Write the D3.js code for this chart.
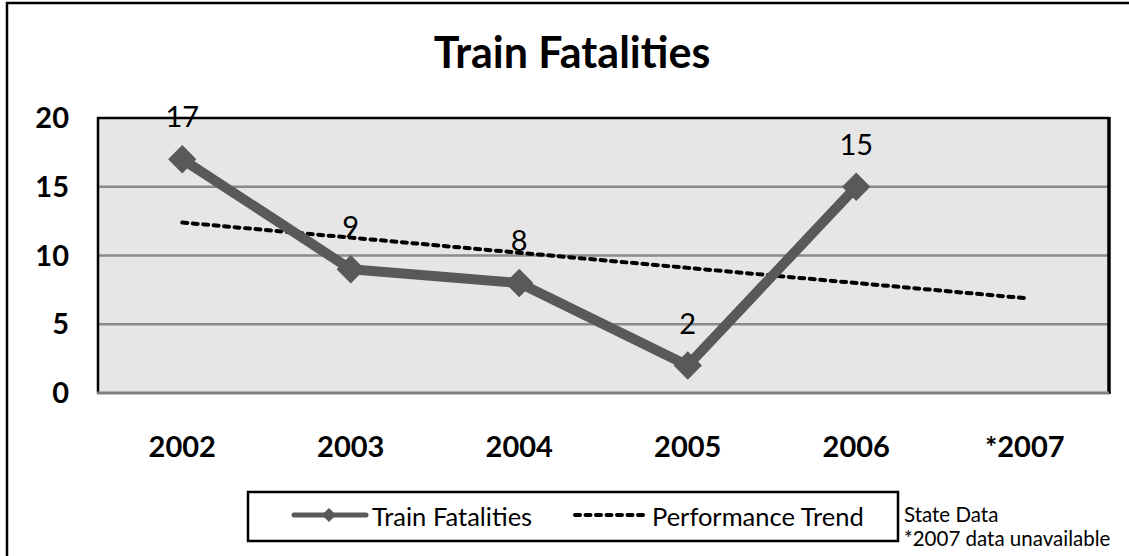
<!DOCTYPE html>
<head>
    <meta charset="utf-8">
    <title>Train Fatalities</title>
    <style>
        body { margin: 0; background: #fff; }
        text { font-family: Lato, "Open Sans", sans-serif; fill: #000; }
    </style>
</head>
<body>
<svg width="1129" height="556"></svg>
<script src="https://cdn.jsdelivr.net/npm/d3@7"></script>
<script>

    //data
    var years = ["2002", "2003", "2004", "2005", "2006", "*2007"];
    var fatalities = [17, 9, 8, 2, 15];          // no value for 2007
    var trend = [12.4, 11.3, 10.2, 9.1, 8.0, 6.9]; // dotted performance trend
    var yTicks = [0, 5, 10, 15, 20];

    var svg = d3.select("svg");

    //plot area
    var plot = {left: 98, top: 118, right: 1109, bottom: 393};

    var x = d3.scaleBand()
        .domain(years)
        .range([plot.left, plot.right]);

    var y = d3.scaleLinear()
        .domain([0, 20])
        .range([plot.bottom, plot.top]);

    var cx = function(i) { return x(years[i]) + x.bandwidth() / 2; };

    //outer chart border (runs off the right and bottom of the picture)
    svg.append("rect")
        .attr("x", 7).attr("y", 3)
        .attr("width", 1140).attr("height", 580)
        .attr("fill", "none")
        .attr("stroke", "#000")
        .attr("stroke-width", 2.5);

    //title
    svg.append("text")
        .attr("x", 572).attr("y", 68)
        .attr("text-anchor", "middle")
        .attr("font-size", 43)
        .attr("font-weight", "bold")
        .text("Train Fatalities");

    //plot background
    svg.append("rect")
        .attr("x", plot.left).attr("y", plot.top)
        .attr("width", plot.right - plot.left)
        .attr("height", plot.bottom - plot.top)
        .attr("fill", "#e6e6e6");

    //gridlines
    svg.append("g")
        .selectAll("line")
        .data(yTicks.filter(d => d > 0 && d < 20))
        .enter().append("line")
            .attr("x1", plot.left).attr("x2", plot.right)
            .attr("y1", d => y(d)).attr("y2", d => y(d))
            .attr("stroke", "#8a8a8a")
            .attr("stroke-width", 2.5);

    //plot frame: black left/top/right, gray bottom axis
    svg.append("path")
        .attr("d", "M" + plot.left + "," + plot.bottom + "V" + plot.top + "H" + plot.right)
        .attr("fill", "none").attr("stroke", "#000").attr("stroke-width", 2.5);
    svg.append("line")
        .attr("x1", plot.right).attr("x2", plot.right)
        .attr("y1", plot.top - 1).attr("y2", plot.bottom + 1)
        .attr("stroke", "#000").attr("stroke-width", 3.5);
    svg.append("line")
        .attr("x1", plot.left - 1).attr("x2", plot.right)
        .attr("y1", plot.bottom).attr("y2", plot.bottom)
        .attr("stroke", "#808080").attr("stroke-width", 3);

    //y axis labels
    svg.append("g")
        .selectAll("text")
        .data(yTicks)
        .enter().append("text")
            .attr("x", 69)
            .attr("y", d => y(d) + 10)
            .attr("text-anchor", "end")
            .attr("font-size", 29)
            .attr("font-weight", "bold")
            .text(d => d);

    //x axis labels
    svg.append("g")
        .selectAll("text")
        .data(years)
        .enter().append("text")
            .attr("x", (d, i) => cx(i))
            .attr("y", 457)
            .attr("text-anchor", "middle")
            .attr("font-size", 29)
            .attr("font-weight", "bold")
            .text(d => d);

    //performance trend (dotted)
    var trendLine = d3.line()
        .x((d, i) => cx(i))
        .y(d => y(d));

    svg.append("path")
        .datum(trend)
        .attr("d", trendLine)
        .attr("fill", "none")
        .attr("stroke", "#000")
        .attr("stroke-width", 4)
        .attr("stroke-linecap", "round")
        .attr("stroke-dasharray", "5,5.5");

    //train fatalities line
    svg.append("path")
        .datum(fatalities)
        .attr("d", trendLine)
        .attr("fill", "none")
        .attr("stroke", "#595959")
        .attr("stroke-width", 10)
        .attr("stroke-linejoin", "round");

    var diamond = d3.symbol().type(d3.symbolSquare).size(400);

    svg.append("g")
        .selectAll("path")
        .data(fatalities)
        .enter().append("path")
            .attr("d", diamond)
            .attr("transform", (d, i) => "translate(" + cx(i) + "," + y(d) + ") rotate(45)")
            .attr("fill", "#595959");

    //data labels
    svg.append("g")
        .selectAll("text")
        .data(fatalities)
        .enter().append("text")
            .attr("x", (d, i) => cx(i))
            .attr("y", d => y(d) - 32)
            .attr("text-anchor", "middle")
            .attr("font-size", 29)
            .text(d => d);

    //legend
    var legend = svg.append("g");
    legend.append("rect")
        .attr("x", 248).attr("y", 492)
        .attr("width", 650).attr("height", 49)
        .attr("fill", "#fff")
        .attr("stroke", "#000")
        .attr("stroke-width", 2.5);

    legend.append("line")
        .attr("x1", 294).attr("x2", 366)
        .attr("y1", 515).attr("y2", 515)
        .attr("stroke", "#595959")
        .attr("stroke-width", 5)
        .attr("stroke-linecap", "round");
    legend.append("path")
        .attr("d", d3.symbol().type(d3.symbolSquare).size(100))
        .attr("transform", "translate(329,515) rotate(45)")
        .attr("fill", "#595959");
    legend.append("text")
        .attr("x", 372).attr("y", 526)
        .attr("font-size", 25.5)
        .text("Train Fatalities");

    legend.append("line")
        .attr("x1", 575).attr("x2", 644)
        .attr("y1", 515).attr("y2", 515)
        .attr("stroke", "#000")
        .attr("stroke-width", 4)
        .attr("stroke-linecap", "round")
        .attr("stroke-dasharray", "5,5.5");
    legend.append("text")
        .attr("x", 652).attr("y", 526)
        .attr("font-size", 25.5)
        .text("Performance Trend");

    //notes
    svg.append("text")
        .attr("x", 904).attr("y", 522)
        .attr("font-size", 20.5)
        .text("State Data");
    svg.append("text")
        .attr("x", 904).attr("y", 546)
        .attr("font-size", 20.5)
        .text("*2007 data unavailable");

</script>
</body>
